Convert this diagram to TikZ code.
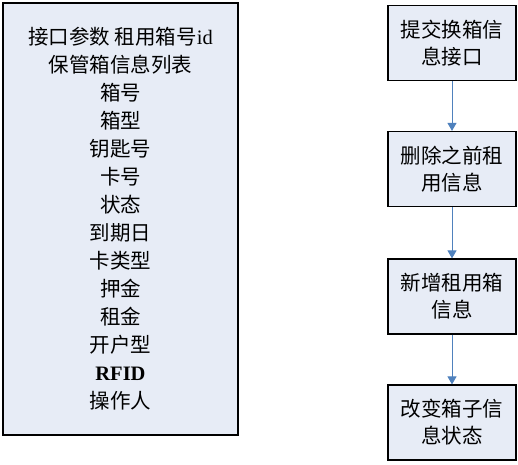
\documentclass[tikz,border=0pt]{standalone}
\usepackage{fontspec}
\setmainfont{Liberation Serif}
\newfontfamily\cjk{Noto Sans CJK SC}
\usetikzlibrary{arrows.meta}
\definecolor{boxfill}{HTML}{E7ECF6}
\definecolor{flowblue}{HTML}{4F81BD}
\tikzset{
  panel/.style={draw=black, line width=1.2pt, fill=boxfill, align=center,
    font=\fontsize{20.5pt}{28pt}\selectfont\cjk, inner sep=0pt},
  stepbox/.style={panel, minimum width=128pt, minimum height=75pt,
    font=\fontsize{20.5pt}{27pt}\selectfont\cjk},
  flow/.style={draw=flowblue, line width=1pt, -{Triangle[length=8pt,width=9pt]}}
}
\begin{document}
\begin{tikzpicture}[x=1pt,y=-1pt]
\useasboundingbox (0,0) rectangle (518,464);
% parameter list of the interface
\node[panel, minimum width=235pt, minimum height=432pt] (params) at (120.5,219)
  {接口参数 租用箱号{\rmfamily id}\\保管箱信息列表\\箱号\\箱型\\钥匙号\\卡号\\状态\\到期日\\卡类型\\押金\\租金\\开户型\\{\rmfamily\bfseries RFID}\\操作人};
% processing steps
\node[stepbox] (s1) at (452,43)  {提交换箱信\\息接口};
\node[stepbox] (s2) at (452,169) {删除之前租\\用信息};
\node[stepbox] (s3) at (452,296.5) {新增租用箱\\信息};
\node[stepbox] (s4) at (452,422.5) {改变箱子信\\息状态};
\draw[flow] (s1.south) -- (s2.north);
\draw[flow] (s2.south) -- (s3.north);
\draw[flow] (s3.south) -- (s4.north);
\end{tikzpicture}
\end{document}
